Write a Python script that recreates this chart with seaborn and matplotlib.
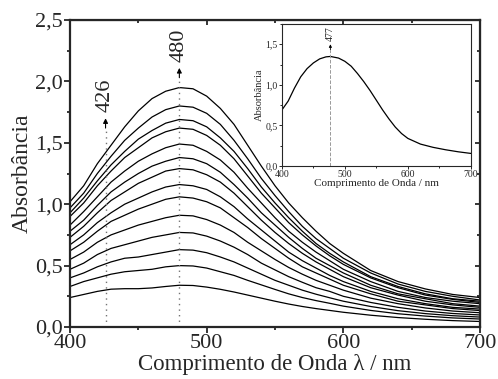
import numpy as np
import pandas as pd
import matplotlib
matplotlib.use("Agg")
import matplotlib.pyplot as plt
import seaborn as sns
from matplotlib.ticker import MultipleLocator, FuncFormatter

# ---------------- data ----------------
wavelength = [400, 410, 420, 430, 440, 450, 460, 470, 480, 490, 500, 510, 520,
              530, 540, 550, 560, 570, 580, 590, 600, 620, 640, 660, 680, 700]

curve_01 = [1.02, 1.15, 1.33, 1.48, 1.63, 1.76, 1.86, 1.92, 1.95, 1.94, 1.88, 1.78, 1.65,
            1.48, 1.31, 1.15, 1.01, 0.89, 0.78, 0.68, 0.60, 0.46, 0.37, 0.31, 0.265, 0.24]
curve_02 = [0.97, 1.09, 1.25, 1.39, 1.52, 1.62, 1.71, 1.77, 1.80, 1.79, 1.74, 1.65, 1.52,
            1.37, 1.21, 1.07, 0.94, 0.82, 0.72, 0.64, 0.56, 0.44, 0.35, 0.29, 0.25, 0.22]
curve_03 = [0.93, 1.05, 1.19, 1.32, 1.43, 1.53, 1.60, 1.66, 1.69, 1.68, 1.63, 1.54, 1.43,
            1.29, 1.14, 1.01, 0.89, 0.78, 0.68, 0.60, 0.53, 0.41, 0.33, 0.27, 0.23, 0.21]
curve_04 = [0.90, 1.01, 1.15, 1.27, 1.38, 1.46, 1.54, 1.59, 1.62, 1.61, 1.56, 1.48, 1.37,
            1.23, 1.09, 0.97, 0.85, 0.75, 0.66, 0.58, 0.51, 0.40, 0.32, 0.26, 0.225, 0.20]
curve_05 = [0.83, 0.94, 1.06, 1.18, 1.27, 1.35, 1.41, 1.46, 1.49, 1.48, 1.43, 1.36, 1.26,
            1.13, 1.01, 0.89, 0.78, 0.69, 0.61, 0.54, 0.47, 0.37, 0.29, 0.24, 0.21, 0.19]
curve_06 = [0.78, 0.87, 0.99, 1.10, 1.18, 1.25, 1.31, 1.35, 1.38, 1.37, 1.33, 1.26, 1.16,
            1.05, 0.93, 0.83, 0.73, 0.64, 0.56, 0.50, 0.44, 0.34, 0.27, 0.23, 0.19, 0.17]
curve_07 = [0.73, 0.82, 0.93, 1.03, 1.10, 1.17, 1.22, 1.27, 1.29, 1.28, 1.24, 1.18, 1.09,
            0.98, 0.87, 0.77, 0.68, 0.60, 0.53, 0.47, 0.41, 0.32, 0.26, 0.21, 0.18, 0.16]
curve_08 = [0.67, 0.75, 0.85, 0.93, 1.00, 1.05, 1.10, 1.14, 1.16, 1.15, 1.12, 1.06, 0.98,
            0.88, 0.79, 0.70, 0.61, 0.54, 0.48, 0.42, 0.37, 0.29, 0.23, 0.19, 0.16, 0.146]
curve_09 = [0.62, 0.69, 0.78, 0.86, 0.91, 0.96, 1.00, 1.04, 1.06, 1.05, 1.02, 0.97, 0.89,
            0.81, 0.72, 0.64, 0.56, 0.49, 0.44, 0.39, 0.34, 0.27, 0.21, 0.18, 0.15, 0.134]
curve_10 = [0.55, 0.61, 0.69, 0.75, 0.79, 0.83, 0.86, 0.89, 0.91, 0.905, 0.875, 0.83, 0.77,
            0.69, 0.62, 0.55, 0.485, 0.43, 0.38, 0.34, 0.30, 0.235, 0.19, 0.155, 0.13, 0.116]
curve_11 = [0.47, 0.52, 0.59, 0.64, 0.67, 0.70, 0.73, 0.75, 0.77, 0.766, 0.74, 0.70, 0.65,
            0.59, 0.52, 0.465, 0.41, 0.364, 0.32, 0.29, 0.25, 0.20, 0.16, 0.13, 0.11, 0.098]
curve_12 = [0.40, 0.44, 0.49, 0.53, 0.56, 0.57, 0.59, 0.61, 0.63, 0.626, 0.605, 0.57, 0.53,
            0.48, 0.43, 0.38, 0.34, 0.30, 0.267, 0.238, 0.21, 0.167, 0.133, 0.109, 0.092, 0.081]
curve_13 = [0.33, 0.37, 0.40, 0.43, 0.45, 0.46, 0.47, 0.49, 0.50, 0.497, 0.48, 0.45, 0.42,
            0.38, 0.343, 0.306, 0.27, 0.24, 0.215, 0.193, 0.17, 0.135, 0.108, 0.089, 0.074, 0.065]
curve_14 = [0.24, 0.265, 0.29, 0.308, 0.312, 0.312, 0.318, 0.33, 0.34, 0.338, 0.325, 0.307, 0.285,
            0.26, 0.235, 0.21, 0.187, 0.167, 0.15, 0.135, 0.12, 0.096, 0.077, 0.063, 0.052, 0.045]

curves = [curve_01, curve_02, curve_03, curve_04, curve_05, curve_06, curve_07,
          curve_08, curve_09, curve_10, curve_11, curve_12, curve_13, curve_14]

inset_wavelength = [400, 410, 420, 430, 440, 450, 460, 470, 477, 490, 500, 510, 520, 530,
                    540, 550, 560, 570, 580, 590, 600, 620, 640, 660, 680, 700]
inset_absorb = [0.69, 0.80, 0.96, 1.10, 1.20, 1.27, 1.32, 1.345, 1.35, 1.33, 1.29, 1.23,
                1.14, 1.04, 0.93, 0.81, 0.69, 0.58, 0.48, 0.40, 0.34, 0.27, 0.23, 0.20,
                0.175, 0.155]

peak_marks = [426, 480]
inset_peak = 477

x_ticks = [400, 500, 600, 700]
y_ticks = [0.0, 0.5, 1.0, 1.5, 2.0, 2.5]
inset_y_ticks = [0.0, 0.5, 1.0, 1.5]

# ---------------- style ----------------
sns.set_style("ticks")
plt.rcParams['font.family'] = ['Liberation Serif', 'DejaVu Serif']
plt.rcParams['mathtext.fontset'] = 'stix'

comma = FuncFormatter(lambda v, p: f"{v:.1f}".replace('.', ','))

fig = plt.figure(figsize=(4.98, 3.79), dpi=100)
ax = fig.add_axes([0.1406, 0.1372, 0.8233, 0.81])

df = pd.DataFrame({
    'wl': np.tile(wavelength, len(curves)),
    'A': np.concatenate([np.asarray(c, float) for c in curves]),
    'curve': np.repeat(np.arange(len(curves)), len(wavelength)),
})
sns.lineplot(data=df, x='wl', y='A', units='curve', estimator=None,
             color='black', lw=0.9, ax=ax, legend=False)

ax.set_xlim(400, 700)
ax.set_ylim(0, 2.5)
ax.set_xticks(x_ticks)
ax.set_yticks(y_ticks)
ax.xaxis.set_minor_locator(MultipleLocator(50))
ax.yaxis.set_minor_locator(MultipleLocator(0.25))
ax.yaxis.set_major_formatter(comma)
ax.tick_params(which='both', direction='out', labelsize=16, width=1.3, pad=1)
ax.tick_params(which='major', length=4)
ax.tick_params(which='minor', length=2.5)
for s in ax.spines.values():
    s.set_linewidth(1.6)
    s.set_visible(True)
sec_x = ax.secondary_xaxis('top')
sec_x.set_xticks(x_ticks)
sec_x.xaxis.set_minor_locator(MultipleLocator(50))
sec_x.tick_params(which='both', direction='in', labeltop=False, width=1.3)
sec_y = ax.secondary_yaxis('right')
sec_y.set_yticks(y_ticks)
sec_y.yaxis.set_minor_locator(MultipleLocator(0.25))
sec_y.tick_params(which='both', direction='in', labelright=False, width=1.3)

ax.set_xlabel('Comprimento de Onda λ / nm', fontsize=16.5, labelpad=0.5)
ax.set_ylabel('Absorbância', fontsize=17, labelpad=2)

# dotted peak markers with arrows and labels
mark_tops = [1.62, 2.03]
text_y = [1.89, 2.29]
for pk, top, ty in zip(peak_marks, mark_tops, text_y):
    ax.plot([pk, pk], [0, top], ls=(0, (1, 3)), color='0.45', lw=1.0)
    ax.annotate('', xy=(pk, top + 0.08), xytext=(pk, top),
                arrowprops=dict(arrowstyle='-|>', color='black', lw=0.8,
                                mutation_scale=7, shrinkA=0, shrinkB=0))
    ax.text(pk, ty, str(pk), rotation=90, ha='center', va='center', fontsize=16)

# ---------------- inset ----------------
ins = fig.add_axes([0.566, 0.562, 0.3795, 0.3747])
sns.lineplot(x=inset_wavelength, y=inset_absorb, color='black', lw=0.9, ax=ins)
ins.set_xlim(400, 700)
ins.set_ylim(0, 1.75)
ins.set_xticks(x_ticks)
ins.set_yticks(inset_y_ticks)
ins.xaxis.set_minor_locator(MultipleLocator(50))
ins.yaxis.set_minor_locator(MultipleLocator(0.25))
ins.yaxis.set_major_formatter(comma)
ins.tick_params(which='both', direction='out', labelsize=7, width=0.7, pad=0.5)
ins.tick_params(which='major', length=2.5)
ins.tick_params(which='minor', length=1.5)
for s in ins.spines.values():
    s.set_linewidth(0.8)
    s.set_visible(True)
ins.set_xlabel('Comprimento de Onda / nm', fontsize=8, labelpad=0)
ins.set_ylabel('Absorbância', fontsize=7.5, labelpad=1)
ins.plot([inset_peak, inset_peak], [0, 1.43], ls='--', color='0.6', lw=0.7)
ins.annotate('', xy=(inset_peak, 1.50), xytext=(inset_peak, 1.43),
             arrowprops=dict(arrowstyle='-|>', color='black', lw=0.6,
                             mutation_scale=4, shrinkA=0, shrinkB=0))
ins.text(inset_peak, 1.63, str(inset_peak), rotation=90, ha='center', va='center', fontsize=7)

fig.savefig('out.png', dpi=100)
